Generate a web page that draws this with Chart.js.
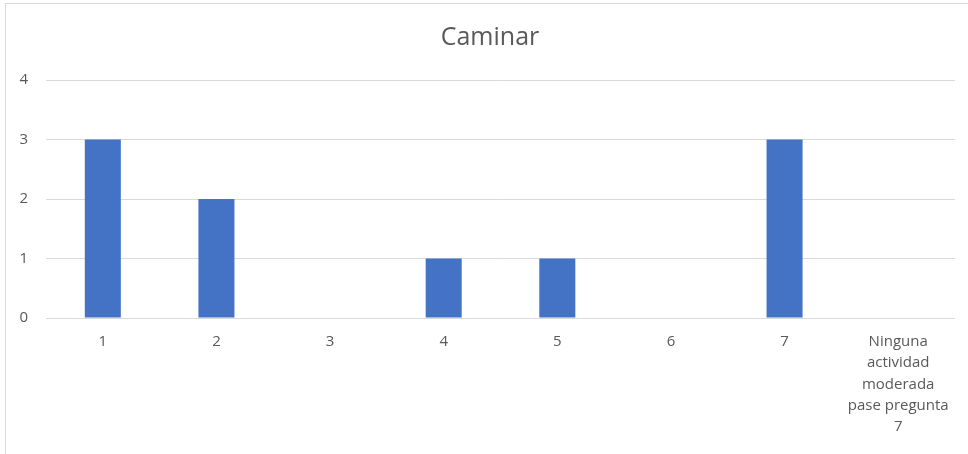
<!DOCTYPE html>
<html>
<head>
<meta charset="utf-8">
<script src="https://cdn.jsdelivr.net/npm/chart.js@4"></script>
<style>
  html, body { margin: 0; padding: 0; background: #fff; overflow: hidden; }
  #wrap { position: relative; width: 968px; height: 454px; }
  #frame { position: absolute; left: 5px; top: 3px; width: 980px; height: 470px; border: 1px solid #d9d9d9; box-sizing: border-box; }
  canvas { position: absolute; left: 0; top: 0; }
</style>
</head>
<body>
<div id="wrap">
  <div id="frame"></div>
  <canvas id="myGraph" width="968" height="454"></canvas>
</div>
<script>
const labels1 = ['1', '2', '3', '4', '5', '6', '7',
  ['Ninguna', 'actividad', 'moderada', 'pase pregunta', '7']];
const caminar1 = [3, 2, 0, 1, 1, 0, 3, 0];
const yTicks1 = [0, 1, 2, 3, 4];
const titulo = 'Caminar';

const ctx = document.getElementById('myGraph');

// title centred on the framed box rather than on the plot area
const titlePlugin = {
  id: 'titleBox',
  afterDraw(chart) {
    const c = chart.ctx;
    c.save();
    c.fillStyle = '#595959';
    c.font = '25px "Open Sans"';
    c.textAlign = 'center';
    c.textBaseline = 'middle';
    c.fillText(titulo, chart.width / 2 + 6, 38);
    c.restore();
  }
};

const data = {
  labels: labels1,
  datasets: [{
    label: titulo,
    data: caminar1,
    backgroundColor: '#4472C4',
    borderWidth: 0,
    barPercentage: 0.317,
    categoryPercentage: 1
  }]
};

const config = {
  type: 'bar',
  data: data,
  plugins: [titlePlugin],
  options: {
    responsive: false,
    animation: false,
    layout: { padding: { top: 80, right: 13, bottom: 0, left: 0 } },
    plugins: {
      legend: { display: false },
      tooltip: { enabled: false },
      title: { display: false }
    },
    scales: {
      x: {
        grid: { display: false, drawTicks: false },
        border: { display: false },
        ticks: {
          color: '#595959',
          padding: 13,
          maxRotation: 0,
          autoSkip: false,
          font: { family: 'Open Sans', size: 15, lineHeight: 1.42 }
        },
        afterFit: (scale) => { scale.height = 136; }
      },
      y: {
        min: 0,
        max: 4,
        afterBuildTicks: (scale) => { scale.ticks = yTicks1.map(v => ({ value: v })); },
        grid: { color: '#d9d9d9', drawTicks: false },
        border: { display: false },
        ticks: {
          color: '#595959',
          padding: 18,
          font: { family: 'Open Sans', size: 15 }
        },
        afterFit: (scale) => { scale.width = 46; }
      }
    }
  }
};

const myChart = new Chart(ctx, config);
</script>
</body>
</html>
